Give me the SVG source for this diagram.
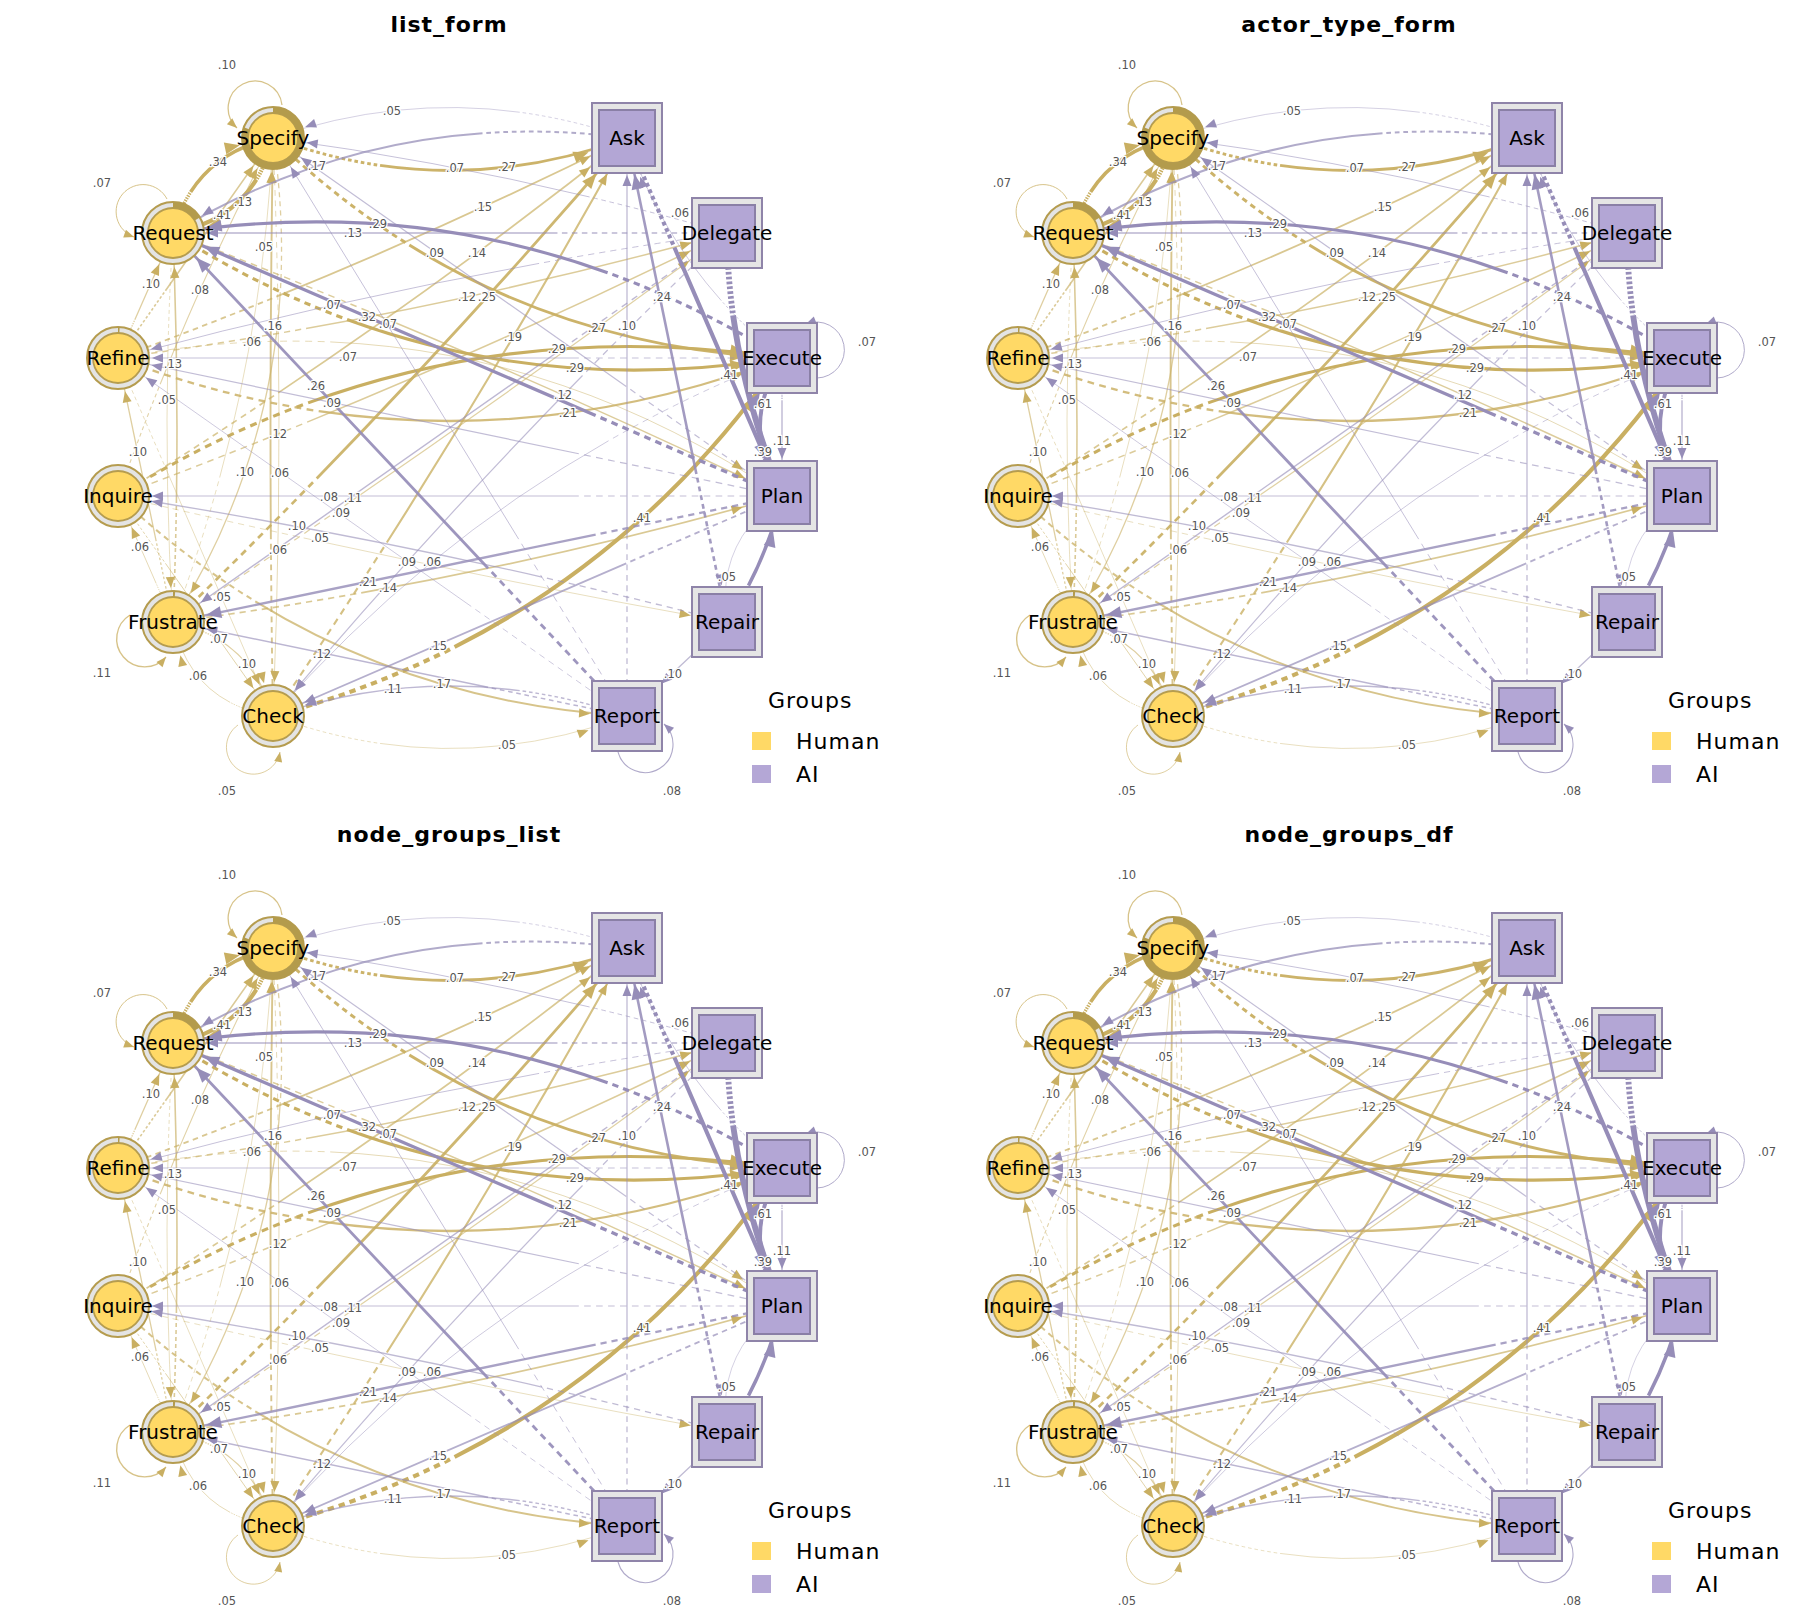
<svg xmlns="http://www.w3.org/2000/svg" width="1800" height="1620" viewBox="0 0 1800 1620">
<style>
text{font-family:"DejaVu Sans","Liberation Sans",sans-serif}
.title{font-size:22px;font-weight:bold;text-anchor:middle;letter-spacing:1px;fill:#000}
.el text{font-size:11.5px;fill:#555;text-anchor:middle;stroke:#fff;stroke-width:2.5px;paint-order:stroke;stroke-linejoin:round}
.nl{font-size:20px;text-anchor:middle;fill:#000}
.lg{font-size:22px;letter-spacing:1px;fill:#000}
.pie{fill:none;stroke:#B39B4C;stroke-width:6}
</style>
<defs>
<marker id="gc" markerUnits="userSpaceOnUse" orient="auto" refX="34" refY="0" overflow="visible"><path d="M0,0L-11,-4.5V4.5Z" fill="#C9AF62"/></marker>
<marker id="gcB" markerUnits="userSpaceOnUse" orient="auto" refX="34" refY="0" overflow="visible"><path d="M0,0L-15,-6V6Z" fill="#C9AF62"/></marker>
<marker id="gs1" markerUnits="userSpaceOnUse" orient="auto" refX="37" refY="0" overflow="visible"><path d="M0,0L-11,-4.5V4.5Z" fill="#C9AF62"/></marker>
<marker id="gs1B" markerUnits="userSpaceOnUse" orient="auto" refX="37" refY="0" overflow="visible"><path d="M0,0L-15,-6V6Z" fill="#C9AF62"/></marker>
<marker id="gs2" markerUnits="userSpaceOnUse" orient="auto" refX="41" refY="0" overflow="visible"><path d="M0,0L-11,-4.5V4.5Z" fill="#C9AF62"/></marker>
<marker id="gs2B" markerUnits="userSpaceOnUse" orient="auto" refX="41" refY="0" overflow="visible"><path d="M0,0L-15,-6V6Z" fill="#C9AF62"/></marker>
<marker id="gs3" markerUnits="userSpaceOnUse" orient="auto" refX="47" refY="0" overflow="visible"><path d="M0,0L-11,-4.5V4.5Z" fill="#C9AF62"/></marker>
<marker id="gs3B" markerUnits="userSpaceOnUse" orient="auto" refX="47" refY="0" overflow="visible"><path d="M0,0L-15,-6V6Z" fill="#C9AF62"/></marker>
<marker id="pc" markerUnits="userSpaceOnUse" orient="auto" refX="34" refY="0" overflow="visible"><path d="M0,0L-11,-4.5V4.5Z" fill="#968DB8"/></marker>
<marker id="pcB" markerUnits="userSpaceOnUse" orient="auto" refX="34" refY="0" overflow="visible"><path d="M0,0L-15,-6V6Z" fill="#968DB8"/></marker>
<marker id="ps1" markerUnits="userSpaceOnUse" orient="auto" refX="37" refY="0" overflow="visible"><path d="M0,0L-11,-4.5V4.5Z" fill="#968DB8"/></marker>
<marker id="ps1B" markerUnits="userSpaceOnUse" orient="auto" refX="37" refY="0" overflow="visible"><path d="M0,0L-15,-6V6Z" fill="#968DB8"/></marker>
<marker id="ps2" markerUnits="userSpaceOnUse" orient="auto" refX="41" refY="0" overflow="visible"><path d="M0,0L-11,-4.5V4.5Z" fill="#968DB8"/></marker>
<marker id="ps2B" markerUnits="userSpaceOnUse" orient="auto" refX="41" refY="0" overflow="visible"><path d="M0,0L-15,-6V6Z" fill="#968DB8"/></marker>
<marker id="ps3" markerUnits="userSpaceOnUse" orient="auto" refX="47" refY="0" overflow="visible"><path d="M0,0L-11,-4.5V4.5Z" fill="#968DB8"/></marker>
<marker id="gl" markerUnits="userSpaceOnUse" orient="auto" refX="0" refY="0" overflow="visible"><path d="M0,0L-10,-4V4Z" fill="#C9AF62"/></marker>
<marker id="pl" markerUnits="userSpaceOnUse" orient="auto" refX="0" refY="0" overflow="visible"><path d="M0,0L-10,-4V4Z" fill="#968DB8"/></marker>
<g id="circ"><circle r="31" fill="#E4E4E4" stroke="#B59C4F" stroke-width="2"/><circle r="25" fill="#FFD966" stroke="#B59C4F" stroke-width="1.8"/></g>
<g id="sq"><rect x="-35" y="-35" width="70" height="70" fill="#E5E5E5" stroke="#8F84A9" stroke-width="2"/><rect x="-28" y="-28" width="56" height="56" fill="#B3A6D5" stroke="#8A7FA6" stroke-width="2"/></g>
<g id="edges" fill="none" stroke-dasharray="1 .8 1 .8 1 .8 1 .8 1 .8 1 .8 1 .8 1 .8 1 .8 1 .8 1 .8 1 .8 1 .8 1 .8 1 .8 1 .8 1 .8 200 0">
<g stroke="#C9AF62">
<path pathLength="100" d="M173,233Q194,155 273,138" stroke-width="3.5" marker-end="url(#gcB)"/>
<path pathLength="100" d="M118,358L273,138" stroke-width="1.6" stroke-opacity=".66" marker-end="url(#gc)"/>
<path pathLength="100" d="M273,138Q254,218 173,233" stroke-width="4.1" marker-end="url(#gcB)"/>
<path pathLength="100" d="M173,622Q261,388 273,138" stroke-width=".8" stroke-opacity=".5" marker-end="url(#gc)"/>
<path pathLength="100" d="M118,358L173,233" stroke-width="1.3" stroke-opacity=".6" marker-end="url(#gc)"/>
<path pathLength="100" d="M118,496Q183,312 273,138" stroke-width="1.1" stroke-opacity=".56" marker-end="url(#gc)"/>
<path pathLength="100" d="M273,138Q450,203 627,138" stroke-width="2.9" stroke-opacity=".95" marker-end="url(#gs2B)"/>
<path pathLength="100" d="M118,358Q379,262 627,138" stroke-width="1.8" stroke-opacity=".7" marker-end="url(#gs2)"/>
<path pathLength="100" d="M118,496Q383,332 627,138" stroke-width="1.7" stroke-opacity=".68" marker-end="url(#gs3)"/>
<path pathLength="100" d="M118,358Q427,316 727,233" stroke-width="1.5" stroke-opacity=".64" marker-end="url(#gs1)"/>
<path pathLength="100" d="M173,622Q411,391 627,138" stroke-width="2.7" stroke-opacity=".9" marker-end="url(#gs3B)"/>
<path pathLength="100" d="M273,716Q268,427 273,138" stroke-width="1.9" stroke-opacity=".72" marker-end="url(#gc)"/>
<path pathLength="100" d="M118,358Q478,290 782,496" stroke-width=".9" stroke-opacity=".52" marker-end="url(#gs3)"/>
<path pathLength="100" d="M173,622Q181,427 173,233" stroke-width="1.6" stroke-opacity=".66" marker-end="url(#gc)"/>
<path pathLength="100" d="M173,233Q161,427 173,622" stroke-width=".8" stroke-opacity=".5" marker-end="url(#gc)"/>
<path pathLength="100" d="M118,496Q429,380 727,233" stroke-width="1.5" stroke-opacity=".64" marker-end="url(#gs2)"/>
<path pathLength="100" d="M173,622L118,358" stroke-width="1.3" stroke-opacity=".6" marker-end="url(#gc)"/>
<path pathLength="100" d="M273,138Q312,398 173,622" stroke-width="1.3" stroke-opacity=".6" marker-end="url(#gc)"/>
<path pathLength="100" d="M173,622Q455,434 727,233" stroke-width="1.2" stroke-opacity=".58" marker-end="url(#gs3)"/>
<path pathLength="100" d="M118,496Q421,567 727,622" stroke-width=".8" stroke-opacity=".5" marker-end="url(#gs1)"/>
<path pathLength="100" d="M173,622L118,496" stroke-width=".9" stroke-opacity=".52" marker-end="url(#gc)"/>
<path pathLength="100" d="M273,138Q285,427 273,716" stroke-width=".9" stroke-opacity=".52" marker-end="url(#gc)"/>
<path pathLength="100" d="M173,622Q482,581 782,496" stroke-width="1.7" stroke-opacity=".68" marker-end="url(#gs2)"/>
<path pathLength="100" d="M118,358L273,716" stroke-width=".8" stroke-opacity=".5" marker-end="url(#gc)"/>
<path pathLength="100" d="M118,496L273,716" stroke-width="1" stroke-opacity=".54" marker-end="url(#gc)"/>
<path pathLength="100" d="M173,622Q252,639 273,716" stroke-width="1.3" stroke-opacity=".6" marker-end="url(#gc)"/>
<path pathLength="100" d="M273,716Q191,703 173,622" stroke-width=".9" stroke-opacity=".52" marker-end="url(#gc)"/>
<path pathLength="100" d="M118,496Q333,698 627,716" stroke-width="2" stroke-opacity=".74" marker-end="url(#gs1)"/>
<path pathLength="100" d="M273,716Q463,435 627,138" stroke-width="2.1" stroke-opacity=".78" marker-end="url(#gs2)"/>
<path pathLength="100" d="M273,138Q486,344 782,358" stroke-width="2.9" stroke-opacity=".95" marker-end="url(#gs1B)"/>
<path pathLength="100" d="M118,496Q425,305 782,358" stroke-width="3.1" marker-end="url(#gs1B)"/>
<path pathLength="100" d="M173,233Q454,411 782,358" stroke-width="3.1" marker-end="url(#gs1B)"/>
<path pathLength="100" d="M173,233Q483,353 782,496" stroke-width="1.5" stroke-opacity=".64" marker-end="url(#gs2)"/>
<path pathLength="100" d="M118,358Q450,484 782,358" stroke-width="2.3" stroke-opacity=".82" marker-end="url(#gs2B)"/>
<path pathLength="100" d="M273,716Q593,630 782,358" stroke-width="4.1" marker-end="url(#gs3B)"/>
<path pathLength="100" d="M273,716Q450,781 627,716" stroke-width=".8" stroke-opacity=".5" marker-end="url(#gs2)"/>
</g>
<g stroke="#968DB8">
<path pathLength="100" d="M627,138Q450,77 273,138" stroke-width=".8" stroke-opacity=".5" marker-end="url(#pc)"/>
<path pathLength="100" d="M627,138Q383,106 173,233" stroke-width="2" stroke-opacity=".74" marker-end="url(#pc)"/>
<path pathLength="100" d="M782,358Q501,183 173,233" stroke-width="3.1" marker-end="url(#pcB)"/>
<path pathLength="100" d="M727,233L173,233" stroke-width="1.6" stroke-opacity=".66" marker-end="url(#pc)"/>
<path pathLength="100" d="M782,496L273,138" stroke-width="1.2" stroke-opacity=".58" marker-end="url(#pc)"/>
<path pathLength="100" d="M727,233Q503,169 273,138" stroke-width="1" stroke-opacity=".54" marker-end="url(#pc)"/>
<path pathLength="100" d="M782,358Q672,270 627,138" stroke-width=".9" stroke-opacity=".52" marker-end="url(#ps2)"/>
<path pathLength="100" d="M727,622L627,138" stroke-width="2.6" stroke-opacity=".88" marker-end="url(#ps1B)"/>
<path pathLength="100" d="M727,233Q419,277 118,358" stroke-width="1" stroke-opacity=".54" marker-end="url(#pc)"/>
<path pathLength="100" d="M782,496L173,233" stroke-width="3.3" marker-end="url(#pcB)"/>
<path pathLength="100" d="M627,716L273,138" stroke-width="1" stroke-opacity=".54" marker-end="url(#pc)"/>
<path pathLength="100" d="M782,358L118,358" stroke-width="1" stroke-opacity=".54" marker-end="url(#pc)"/>
<path pathLength="100" d="M627,716L173,233" stroke-width="2.8" stroke-opacity=".92" marker-end="url(#pcB)"/>
<path pathLength="100" d="M782,496L118,358" stroke-width="1.2" stroke-opacity=".58" marker-end="url(#pc)"/>
<path pathLength="100" d="M627,716L118,358" stroke-width=".9" stroke-opacity=".52" marker-end="url(#pc)"/>
<path pathLength="100" d="M782,496L118,496" stroke-width="1.1" stroke-opacity=".56" marker-end="url(#pc)"/>
<path pathLength="100" d="M727,233L173,622" stroke-width="1.4" stroke-opacity=".62" marker-end="url(#pc)"/>
<path pathLength="100" d="M727,622Q426,544 118,496" stroke-width="1.3" stroke-opacity=".6" marker-end="url(#pc)"/>
<path pathLength="100" d="M727,233Q487,462 273,716" stroke-width="1.2" stroke-opacity=".58" marker-end="url(#pc)"/>
<path pathLength="100" d="M782,358Q484,475 273,716" stroke-width=".9" stroke-opacity=".52" marker-end="url(#pc)"/>
<path pathLength="100" d="M782,496L173,622" stroke-width="2.3" stroke-opacity=".82" marker-end="url(#pcB)"/>
<path pathLength="100" d="M782,496L273,716" stroke-width="1.8" stroke-opacity=".7" marker-end="url(#pc)"/>
<path pathLength="100" d="M627,716L173,622" stroke-width="1.5" stroke-opacity=".64" marker-end="url(#pc)"/>
<path pathLength="100" d="M627,716Q450,656 273,716" stroke-width="1.4" stroke-opacity=".62" marker-end="url(#pc)"/>
<path pathLength="100" d="M627,716L627,138" stroke-width="1.3" stroke-opacity=".6" marker-end="url(#ps1)"/>
<path pathLength="100" d="M627,138L782,496" stroke-width="4.1" marker-end="url(#ps2B)"/>
<path pathLength="100" d="M727,233Q728,360 782,496" stroke-width="5.8" marker-end="url(#ps1B)"/>
<path pathLength="100" d="M782,358L782,496" stroke-width="1.4" stroke-opacity=".62" marker-end="url(#ps1)"/>
<path pathLength="100" d="M782,496Q738,427 782,358" stroke-width="3.9" marker-end="url(#ps2B)"/>
<path pathLength="100" d="M782,496Q715,542 727,622" stroke-width=".8" stroke-opacity=".5" marker-end="url(#ps1)"/>
<path pathLength="100" d="M727,622Q765,565 782,496" stroke-width="3.5" marker-end="url(#ps1B)"/>
<path pathLength="100" d="M727,622L627,716" stroke-width="1.3" stroke-opacity=".6" marker-end="url(#ps3)"/>
</g>
<g stroke-dasharray="none" stroke-opacity=".75">
<path d="M282,105A27,27 0 1,0 237,128" stroke="#C9AF62" stroke-width="1.3" marker-end="url(#gl)"/>
<path d="M167,199A27,27 0 1,0 134,237" stroke="#C9AF62" stroke-width="1" marker-end="url(#gl)"/>
<path d="M130,615A28,28 0 1,0 166,657" stroke="#C9AF62" stroke-width="1.4" marker-end="url(#gl)"/>
<path d="M238,725A27,27 0 1,0 280,752" stroke="#C9AF62" stroke-width=".8" marker-end="url(#gl)"/>
<path d="M817,378A28,28 0 1,0 806,324" stroke="#968DB8" stroke-width="1" marker-end="url(#pl)"/>
<path d="M618,752A28,28 0 1,0 664,724" stroke="#968DB8" stroke-width="1.1" marker-end="url(#pl)"/>
</g>
</g>
</defs>

<g id="panel-1">
<text class="title" x="449" y="32">list_form</text>
<g id="connectors-1"><use href="#edges"/></g>
<g class="el" id="edge-labels-1">
<text x="227" y="69">.10</text><text x="102" y="187">.07</text><text x="102" y="677">.11</text><text x="227" y="795">.05</text><text x="867" y="346">.07</text><text x="672" y="795">.08</text>
<text x="392" y="115">.05</text><text x="218" y="166">.34</text><text x="317" y="170">.17</text><text x="243" y="206">.13</text><text x="222" y="219">.41</text><text x="378" y="228">.29</text><text x="353" y="237">.13</text><text x="264" y="251">.05</text><text x="435" y="257">.09</text><text x="151" y="288">.10</text><text x="200" y="294">.08</text><text x="455" y="172">.07</text><text x="507" y="171">.27</text><text x="483" y="211">.15</text><text x="477" y="257">.14</text><text x="680" y="217">.06</text><text x="662" y="301">.24</text><text x="467" y="301">.12</text><text x="487" y="301">.25</text><text x="332" y="309">.07</text><text x="367" y="321">.32</text><text x="388" y="328">.07</text><text x="273" y="330">.16</text><text x="252" y="346">.06</text><text x="348" y="361">.07</text><text x="173" y="368">.13</text><text x="316" y="390">.26</text><text x="167" y="404">.05</text><text x="332" y="407">.09</text><text x="278" y="438">.12</text><text x="138" y="456">.10</text><text x="245" y="476">.10</text><text x="280" y="477">.06</text><text x="329" y="501">.08</text><text x="353" y="502">.11</text><text x="341" y="517">.09</text><text x="297" y="530">.10</text><text x="320" y="542">.05</text><text x="140" y="551">.06</text><text x="278" y="554">.06</text><text x="407" y="566">.09</text><text x="432" y="566">.06</text><text x="368" y="586">.21</text><text x="388" y="592">.14</text><text x="222" y="601">.05</text><text x="219" y="643">.07</text><text x="438" y="650">.15</text><text x="322" y="658">.12</text><text x="247" y="668">.10</text><text x="198" y="680">.06</text><text x="393" y="693">.11</text><text x="442" y="688">.17</text><text x="513" y="341">.19</text><text x="627" y="330">.10</text><text x="597" y="332">.27</text><text x="557" y="353">.29</text><text x="575" y="372">.29</text><text x="729" y="379">.41</text><text x="563" y="399">.12</text><text x="763" y="408">.61</text><text x="568" y="417">.21</text><text x="782" y="445">.11</text><text x="763" y="456">.39</text><text x="642" y="522">.41</text><text x="727" y="581">.05</text><text x="673" y="678">.10</text><text x="507" y="749">.05</text>
</g>
<g id="p1-specify" transform="translate(273,138)"><use href="#circ"/><path class="pie" d="M0,-28A28,28 0 1,1 -26.3,-9.6"/><text class="nl" y="7">Specify</text></g>
<g id="p1-request" transform="translate(173,233)"><use href="#circ"/><path class="pie" d="M0,-28A28,28 0 0,1 24.2,-14"/><text class="nl" y="7">Request</text></g>
<g id="p1-refine" transform="translate(118,358)"><use href="#circ"/><path class="pie" d="M0,-28A28,28 0 0,1 1.5,-27.96"/><text class="nl" y="7">Refine</text></g>
<g id="p1-inquire" transform="translate(118,496)"><use href="#circ"/><text class="nl" y="7">Inquire</text></g>
<g id="p1-frustrate" transform="translate(173,622)"><use href="#circ"/><path class="pie" d="M0,-28A28,28 0 0,1 2,-27.93"/><text class="nl" y="7">Frustrate</text></g>
<g id="p1-check" transform="translate(273,716)"><use href="#circ"/><text class="nl" y="7">Check</text></g>
<g id="p1-ask" transform="translate(627,138)"><use href="#sq"/><text class="nl" y="7">Ask</text></g>
<g id="p1-delegate" transform="translate(727,233)"><use href="#sq"/><text class="nl" y="7">Delegate</text></g>
<g id="p1-execute" transform="translate(782,358)"><use href="#sq"/><text class="nl" y="7">Execute</text></g>
<g id="p1-plan" transform="translate(782,496)"><use href="#sq"/><text class="nl" y="7">Plan</text></g>
<g id="p1-repair" transform="translate(727,622)"><use href="#sq"/><text class="nl" y="7">Repair</text></g>
<g id="p1-report" transform="translate(627,716)"><use href="#sq"/><text class="nl" y="7">Report</text></g>
<g id="legend-1"><text class="lg" x="768" y="708">Groups</text><rect x="752" y="732" width="19" height="18" fill="#FFD966"/><text class="lg" x="796" y="749">Human</text><rect x="752" y="765" width="19" height="18" fill="#B4A7D6"/><text class="lg" x="796" y="782">AI</text></g>
</g>

<g id="panel-2" transform="translate(900,0)">
<text class="title" x="449" y="32">actor_type_form</text>
<g id="connectors-2"><use href="#edges"/></g>
<g class="el" id="edge-labels-2">
<text x="227" y="69">.10</text><text x="102" y="187">.07</text><text x="102" y="677">.11</text><text x="227" y="795">.05</text><text x="867" y="346">.07</text><text x="672" y="795">.08</text>
<text x="392" y="115">.05</text><text x="218" y="166">.34</text><text x="317" y="170">.17</text><text x="243" y="206">.13</text><text x="222" y="219">.41</text><text x="378" y="228">.29</text><text x="353" y="237">.13</text><text x="264" y="251">.05</text><text x="435" y="257">.09</text><text x="151" y="288">.10</text><text x="200" y="294">.08</text><text x="455" y="172">.07</text><text x="507" y="171">.27</text><text x="483" y="211">.15</text><text x="477" y="257">.14</text><text x="680" y="217">.06</text><text x="662" y="301">.24</text><text x="467" y="301">.12</text><text x="487" y="301">.25</text><text x="332" y="309">.07</text><text x="367" y="321">.32</text><text x="388" y="328">.07</text><text x="273" y="330">.16</text><text x="252" y="346">.06</text><text x="348" y="361">.07</text><text x="173" y="368">.13</text><text x="316" y="390">.26</text><text x="167" y="404">.05</text><text x="332" y="407">.09</text><text x="278" y="438">.12</text><text x="138" y="456">.10</text><text x="245" y="476">.10</text><text x="280" y="477">.06</text><text x="329" y="501">.08</text><text x="353" y="502">.11</text><text x="341" y="517">.09</text><text x="297" y="530">.10</text><text x="320" y="542">.05</text><text x="140" y="551">.06</text><text x="278" y="554">.06</text><text x="407" y="566">.09</text><text x="432" y="566">.06</text><text x="368" y="586">.21</text><text x="388" y="592">.14</text><text x="222" y="601">.05</text><text x="219" y="643">.07</text><text x="438" y="650">.15</text><text x="322" y="658">.12</text><text x="247" y="668">.10</text><text x="198" y="680">.06</text><text x="393" y="693">.11</text><text x="442" y="688">.17</text><text x="513" y="341">.19</text><text x="627" y="330">.10</text><text x="597" y="332">.27</text><text x="557" y="353">.29</text><text x="575" y="372">.29</text><text x="729" y="379">.41</text><text x="563" y="399">.12</text><text x="763" y="408">.61</text><text x="568" y="417">.21</text><text x="782" y="445">.11</text><text x="763" y="456">.39</text><text x="642" y="522">.41</text><text x="727" y="581">.05</text><text x="673" y="678">.10</text><text x="507" y="749">.05</text>
</g>
<g id="p2-specify" transform="translate(273,138)"><use href="#circ"/><path class="pie" d="M0,-28A28,28 0 1,1 -26.3,-9.6"/><text class="nl" y="7">Specify</text></g>
<g id="p2-request" transform="translate(173,233)"><use href="#circ"/><path class="pie" d="M0,-28A28,28 0 0,1 24.2,-14"/><text class="nl" y="7">Request</text></g>
<g id="p2-refine" transform="translate(118,358)"><use href="#circ"/><path class="pie" d="M0,-28A28,28 0 0,1 1.5,-27.96"/><text class="nl" y="7">Refine</text></g>
<g id="p2-inquire" transform="translate(118,496)"><use href="#circ"/><text class="nl" y="7">Inquire</text></g>
<g id="p2-frustrate" transform="translate(173,622)"><use href="#circ"/><path class="pie" d="M0,-28A28,28 0 0,1 2,-27.93"/><text class="nl" y="7">Frustrate</text></g>
<g id="p2-check" transform="translate(273,716)"><use href="#circ"/><text class="nl" y="7">Check</text></g>
<g id="p2-ask" transform="translate(627,138)"><use href="#sq"/><text class="nl" y="7">Ask</text></g>
<g id="p2-delegate" transform="translate(727,233)"><use href="#sq"/><text class="nl" y="7">Delegate</text></g>
<g id="p2-execute" transform="translate(782,358)"><use href="#sq"/><text class="nl" y="7">Execute</text></g>
<g id="p2-plan" transform="translate(782,496)"><use href="#sq"/><text class="nl" y="7">Plan</text></g>
<g id="p2-repair" transform="translate(727,622)"><use href="#sq"/><text class="nl" y="7">Repair</text></g>
<g id="p2-report" transform="translate(627,716)"><use href="#sq"/><text class="nl" y="7">Report</text></g>
<g id="legend-2"><text class="lg" x="768" y="708">Groups</text><rect x="752" y="732" width="19" height="18" fill="#FFD966"/><text class="lg" x="796" y="749">Human</text><rect x="752" y="765" width="19" height="18" fill="#B4A7D6"/><text class="lg" x="796" y="782">AI</text></g>
</g>

<g id="panel-3" transform="translate(0,810)">
<text class="title" x="449" y="32">node_groups_list</text>
<g id="connectors-3"><use href="#edges"/></g>
<g class="el" id="edge-labels-3">
<text x="227" y="69">.10</text><text x="102" y="187">.07</text><text x="102" y="677">.11</text><text x="227" y="795">.05</text><text x="867" y="346">.07</text><text x="672" y="795">.08</text>
<text x="392" y="115">.05</text><text x="218" y="166">.34</text><text x="317" y="170">.17</text><text x="243" y="206">.13</text><text x="222" y="219">.41</text><text x="378" y="228">.29</text><text x="353" y="237">.13</text><text x="264" y="251">.05</text><text x="435" y="257">.09</text><text x="151" y="288">.10</text><text x="200" y="294">.08</text><text x="455" y="172">.07</text><text x="507" y="171">.27</text><text x="483" y="211">.15</text><text x="477" y="257">.14</text><text x="680" y="217">.06</text><text x="662" y="301">.24</text><text x="467" y="301">.12</text><text x="487" y="301">.25</text><text x="332" y="309">.07</text><text x="367" y="321">.32</text><text x="388" y="328">.07</text><text x="273" y="330">.16</text><text x="252" y="346">.06</text><text x="348" y="361">.07</text><text x="173" y="368">.13</text><text x="316" y="390">.26</text><text x="167" y="404">.05</text><text x="332" y="407">.09</text><text x="278" y="438">.12</text><text x="138" y="456">.10</text><text x="245" y="476">.10</text><text x="280" y="477">.06</text><text x="329" y="501">.08</text><text x="353" y="502">.11</text><text x="341" y="517">.09</text><text x="297" y="530">.10</text><text x="320" y="542">.05</text><text x="140" y="551">.06</text><text x="278" y="554">.06</text><text x="407" y="566">.09</text><text x="432" y="566">.06</text><text x="368" y="586">.21</text><text x="388" y="592">.14</text><text x="222" y="601">.05</text><text x="219" y="643">.07</text><text x="438" y="650">.15</text><text x="322" y="658">.12</text><text x="247" y="668">.10</text><text x="198" y="680">.06</text><text x="393" y="693">.11</text><text x="442" y="688">.17</text><text x="513" y="341">.19</text><text x="627" y="330">.10</text><text x="597" y="332">.27</text><text x="557" y="353">.29</text><text x="575" y="372">.29</text><text x="729" y="379">.41</text><text x="563" y="399">.12</text><text x="763" y="408">.61</text><text x="568" y="417">.21</text><text x="782" y="445">.11</text><text x="763" y="456">.39</text><text x="642" y="522">.41</text><text x="727" y="581">.05</text><text x="673" y="678">.10</text><text x="507" y="749">.05</text>
</g>
<g id="p3-specify" transform="translate(273,138)"><use href="#circ"/><path class="pie" d="M0,-28A28,28 0 1,1 -26.3,-9.6"/><text class="nl" y="7">Specify</text></g>
<g id="p3-request" transform="translate(173,233)"><use href="#circ"/><path class="pie" d="M0,-28A28,28 0 0,1 24.2,-14"/><text class="nl" y="7">Request</text></g>
<g id="p3-refine" transform="translate(118,358)"><use href="#circ"/><path class="pie" d="M0,-28A28,28 0 0,1 1.5,-27.96"/><text class="nl" y="7">Refine</text></g>
<g id="p3-inquire" transform="translate(118,496)"><use href="#circ"/><text class="nl" y="7">Inquire</text></g>
<g id="p3-frustrate" transform="translate(173,622)"><use href="#circ"/><path class="pie" d="M0,-28A28,28 0 0,1 2,-27.93"/><text class="nl" y="7">Frustrate</text></g>
<g id="p3-check" transform="translate(273,716)"><use href="#circ"/><text class="nl" y="7">Check</text></g>
<g id="p3-ask" transform="translate(627,138)"><use href="#sq"/><text class="nl" y="7">Ask</text></g>
<g id="p3-delegate" transform="translate(727,233)"><use href="#sq"/><text class="nl" y="7">Delegate</text></g>
<g id="p3-execute" transform="translate(782,358)"><use href="#sq"/><text class="nl" y="7">Execute</text></g>
<g id="p3-plan" transform="translate(782,496)"><use href="#sq"/><text class="nl" y="7">Plan</text></g>
<g id="p3-repair" transform="translate(727,622)"><use href="#sq"/><text class="nl" y="7">Repair</text></g>
<g id="p3-report" transform="translate(627,716)"><use href="#sq"/><text class="nl" y="7">Report</text></g>
<g id="legend-3"><text class="lg" x="768" y="708">Groups</text><rect x="752" y="732" width="19" height="18" fill="#FFD966"/><text class="lg" x="796" y="749">Human</text><rect x="752" y="765" width="19" height="18" fill="#B4A7D6"/><text class="lg" x="796" y="782">AI</text></g>
</g>

<g id="panel-4" transform="translate(900,810)">
<text class="title" x="449" y="32">node_groups_df</text>
<g id="connectors-4"><use href="#edges"/></g>
<g class="el" id="edge-labels-4">
<text x="227" y="69">.10</text><text x="102" y="187">.07</text><text x="102" y="677">.11</text><text x="227" y="795">.05</text><text x="867" y="346">.07</text><text x="672" y="795">.08</text>
<text x="392" y="115">.05</text><text x="218" y="166">.34</text><text x="317" y="170">.17</text><text x="243" y="206">.13</text><text x="222" y="219">.41</text><text x="378" y="228">.29</text><text x="353" y="237">.13</text><text x="264" y="251">.05</text><text x="435" y="257">.09</text><text x="151" y="288">.10</text><text x="200" y="294">.08</text><text x="455" y="172">.07</text><text x="507" y="171">.27</text><text x="483" y="211">.15</text><text x="477" y="257">.14</text><text x="680" y="217">.06</text><text x="662" y="301">.24</text><text x="467" y="301">.12</text><text x="487" y="301">.25</text><text x="332" y="309">.07</text><text x="367" y="321">.32</text><text x="388" y="328">.07</text><text x="273" y="330">.16</text><text x="252" y="346">.06</text><text x="348" y="361">.07</text><text x="173" y="368">.13</text><text x="316" y="390">.26</text><text x="167" y="404">.05</text><text x="332" y="407">.09</text><text x="278" y="438">.12</text><text x="138" y="456">.10</text><text x="245" y="476">.10</text><text x="280" y="477">.06</text><text x="329" y="501">.08</text><text x="353" y="502">.11</text><text x="341" y="517">.09</text><text x="297" y="530">.10</text><text x="320" y="542">.05</text><text x="140" y="551">.06</text><text x="278" y="554">.06</text><text x="407" y="566">.09</text><text x="432" y="566">.06</text><text x="368" y="586">.21</text><text x="388" y="592">.14</text><text x="222" y="601">.05</text><text x="219" y="643">.07</text><text x="438" y="650">.15</text><text x="322" y="658">.12</text><text x="247" y="668">.10</text><text x="198" y="680">.06</text><text x="393" y="693">.11</text><text x="442" y="688">.17</text><text x="513" y="341">.19</text><text x="627" y="330">.10</text><text x="597" y="332">.27</text><text x="557" y="353">.29</text><text x="575" y="372">.29</text><text x="729" y="379">.41</text><text x="563" y="399">.12</text><text x="763" y="408">.61</text><text x="568" y="417">.21</text><text x="782" y="445">.11</text><text x="763" y="456">.39</text><text x="642" y="522">.41</text><text x="727" y="581">.05</text><text x="673" y="678">.10</text><text x="507" y="749">.05</text>
</g>
<g id="p4-specify" transform="translate(273,138)"><use href="#circ"/><path class="pie" d="M0,-28A28,28 0 1,1 -26.3,-9.6"/><text class="nl" y="7">Specify</text></g>
<g id="p4-request" transform="translate(173,233)"><use href="#circ"/><path class="pie" d="M0,-28A28,28 0 0,1 24.2,-14"/><text class="nl" y="7">Request</text></g>
<g id="p4-refine" transform="translate(118,358)"><use href="#circ"/><path class="pie" d="M0,-28A28,28 0 0,1 1.5,-27.96"/><text class="nl" y="7">Refine</text></g>
<g id="p4-inquire" transform="translate(118,496)"><use href="#circ"/><text class="nl" y="7">Inquire</text></g>
<g id="p4-frustrate" transform="translate(173,622)"><use href="#circ"/><path class="pie" d="M0,-28A28,28 0 0,1 2,-27.93"/><text class="nl" y="7">Frustrate</text></g>
<g id="p4-check" transform="translate(273,716)"><use href="#circ"/><text class="nl" y="7">Check</text></g>
<g id="p4-ask" transform="translate(627,138)"><use href="#sq"/><text class="nl" y="7">Ask</text></g>
<g id="p4-delegate" transform="translate(727,233)"><use href="#sq"/><text class="nl" y="7">Delegate</text></g>
<g id="p4-execute" transform="translate(782,358)"><use href="#sq"/><text class="nl" y="7">Execute</text></g>
<g id="p4-plan" transform="translate(782,496)"><use href="#sq"/><text class="nl" y="7">Plan</text></g>
<g id="p4-repair" transform="translate(727,622)"><use href="#sq"/><text class="nl" y="7">Repair</text></g>
<g id="p4-report" transform="translate(627,716)"><use href="#sq"/><text class="nl" y="7">Report</text></g>
<g id="legend-4"><text class="lg" x="768" y="708">Groups</text><rect x="752" y="732" width="19" height="18" fill="#FFD966"/><text class="lg" x="796" y="749">Human</text><rect x="752" y="765" width="19" height="18" fill="#B4A7D6"/><text class="lg" x="796" y="782">AI</text></g>
</g>
</svg>
